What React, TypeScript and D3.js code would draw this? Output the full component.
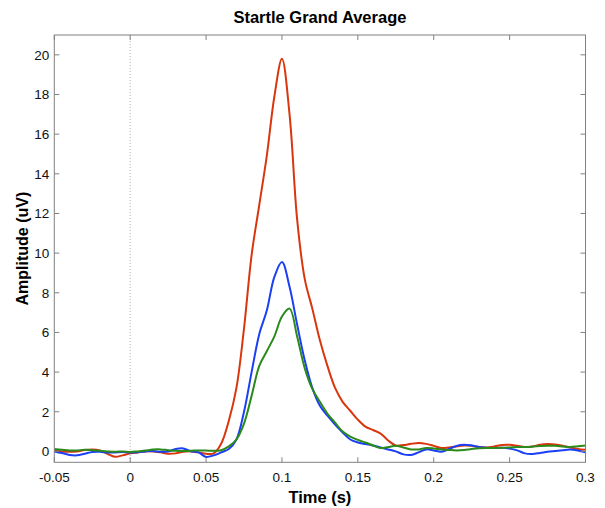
import React from "react";
import * as d3 from "d3";

const TITLE = "Startle Grand Average";
const X_LABEL = "Time (s)";
const Y_LABEL = "Amplitude (uV)";

const X_TICKS = [-0.05, 0, 0.05, 0.1, 0.15, 0.2, 0.25, 0.3];
const X_TICK_LABELS = ["-0.05", "0", "0.05", "0.1", "0.15", "0.2", "0.25", "0.3"];
const Y_TICKS = [0, 2, 4, 6, 8, 10, 12, 14, 16, 18, 20];

const TIMES = [
  -0.05, -0.045, -0.04, -0.035, -0.03, -0.025, -0.02, -0.015, -0.01, -0.005,
  0, 0.005, 0.01, 0.015, 0.02, 0.025, 0.03, 0.035, 0.04, 0.045,
  0.05, 0.055, 0.06, 0.065, 0.07, 0.075, 0.08, 0.085, 0.09, 0.095,
  0.1, 0.105, 0.11, 0.115, 0.12, 0.125, 0.13, 0.135, 0.14, 0.145,
  0.15, 0.155, 0.16, 0.165, 0.17, 0.175, 0.18, 0.185, 0.19, 0.195,
  0.2, 0.205, 0.21, 0.215, 0.22, 0.225, 0.23, 0.235, 0.24, 0.245,
  0.25, 0.255, 0.26, 0.265, 0.27, 0.275, 0.28, 0.285, 0.29, 0.295,
  0.3,
];

const RED = [
  0.05, 0.0, -0.02, 0.0, 0.07, 0.1, 0.05, -0.12, -0.27, -0.2,
  -0.1, -0.05, 0.0, 0.0, -0.05, -0.12, -0.1, -0.02, 0.0, -0.05,
  -0.12, -0.1, 0.4, 1.55, 3.2, 6.2, 9.9, 12.4, 14.9, 17.9,
  19.8, 17.0, 11.7, 8.7, 7.2, 5.6, 4.3, 3.2, 2.5, 2.05,
  1.6, 1.25, 1.08, 0.9, 0.55, 0.3, 0.32, 0.38, 0.42, 0.38,
  0.28, 0.17, 0.2, 0.25, 0.3, 0.28, 0.22, 0.2, 0.25, 0.32,
  0.33, 0.28, 0.22, 0.25, 0.33, 0.37, 0.35, 0.29, 0.2, 0.12,
  0.08,
];

const BLUE = [
  0.0, -0.08, -0.18, -0.2, -0.12, -0.03, -0.02, -0.06, -0.05, -0.03,
  -0.05, -0.04, 0.0, 0.02, -0.02, 0.0, 0.12, 0.15, 0.0, -0.05,
  -0.28, -0.2, -0.05, 0.12, 0.6, 2.0, 4.0, 5.9, 7.1, 8.8,
  9.55, 8.3, 6.4, 4.6, 3.2, 2.3, 1.8, 1.35, 0.95, 0.6,
  0.45, 0.37, 0.3, 0.2, 0.1, 0.0, -0.15, -0.18, -0.05, 0.1,
  0.05, -0.02, 0.12, 0.28, 0.34, 0.3, 0.22, 0.18, 0.17, 0.18,
  0.14, 0.05, -0.1, -0.13, -0.08, -0.02, 0.02, 0.06, 0.09, 0.04,
  -0.05,
];

const GREEN = [
  0.12, 0.08, 0.04, 0.05, 0.08, 0.06, 0.03, 0.0, -0.02, 0.0,
  -0.03, 0.0, 0.04, 0.09, 0.1, 0.06, 0.03, 0.02, 0.03, 0.05,
  0.04, 0.03, 0.06, 0.25, 0.6, 1.4, 2.8, 4.3, 5.05, 5.8,
  6.8, 7.2, 5.8, 4.2, 3.15, 2.5, 1.9, 1.45, 1.0, 0.75,
  0.58, 0.45, 0.3, 0.17, 0.22, 0.29, 0.2, 0.1, 0.1, 0.17,
  0.15, 0.1, 0.07, 0.05, 0.07, 0.12, 0.16, 0.17, 0.17, 0.18,
  0.2, 0.22, 0.22, 0.24, 0.27, 0.29, 0.28, 0.25, 0.22, 0.26,
  0.3,
];

const SERIES = [
  { name: "red", values: RED, color: "#d9360e" },
  { name: "blue", values: BLUE, color: "#1a3ff5" },
  { name: "green", values: GREEN, color: "#2a8a1a" },
];

const W = 605;
const H = 508;
const LEFT = 54.3;
const RIGHT = 585.5;
const TOP = 35;
const BOTTOM = 462.3;
const FONT = "'Liberation Sans', Arial, Helvetica, sans-serif";
const AXIS_COLOR = "#808080";

export default function App() {
  const x = d3.scaleLinear().domain([-0.05, 0.3]).range([LEFT, RIGHT]);
  const y = d3.scaleLinear().domain([-0.55, 21]).range([BOTTOM, TOP]);

  const line = d3
    .line<number>()
    .x((_, i) => x(TIMES[i]))
    .y((d) => y(d))
    .curve(d3.curveCatmullRom.alpha(0.5));

  const tickLen = 5;

  return (
    <svg
      width={W}
      height={H}
      style={{ position: "absolute", left: 0, top: 0, background: "#fff" }}
      fontFamily={FONT}
    >
      <rect x={0} y={0} width={W} height={H} fill="#fff" />
      <line
        x1={x(0)}
        x2={x(0)}
        y1={TOP}
        y2={BOTTOM}
        stroke="#b0b0b0"
        strokeWidth={1}
        strokeDasharray="1,2"
      />
      <defs>
        <clipPath id="plotclip">
          <rect x={LEFT} y={TOP} width={RIGHT - LEFT} height={BOTTOM - TOP} />
        </clipPath>
      </defs>
      <g clipPath="url(#plotclip)">
        {SERIES.map((s) => (
          <path
            key={s.name}
            d={line(s.values) || ""}
            fill="none"
            stroke={s.color}
            strokeWidth={2}
            strokeLinejoin="round"
          />
        ))}
      </g>
      <rect
        x={LEFT}
        y={TOP}
        width={RIGHT - LEFT}
        height={BOTTOM - TOP}
        fill="none"
        stroke={AXIS_COLOR}
        strokeWidth={1}
      />
      {X_TICKS.map((t, i) => (
        <g key={"xt" + i}>
          <line x1={x(t)} x2={x(t)} y1={BOTTOM} y2={BOTTOM - tickLen} stroke={AXIS_COLOR} />
          <line x1={x(t)} x2={x(t)} y1={TOP} y2={TOP + tickLen} stroke={AXIS_COLOR} />
          <text
            x={x(t)}
            y={BOTTOM + 19.5}
            textAnchor="middle"
            fontSize={13.5}
            fill="#111"
          >
            {X_TICK_LABELS[i]}
          </text>
        </g>
      ))}
      {Y_TICKS.map((t) => (
        <g key={"yt" + t}>
          <line x1={LEFT} x2={LEFT + tickLen} y1={y(t)} y2={y(t)} stroke={AXIS_COLOR} />
          <line x1={RIGHT} x2={RIGHT - tickLen} y1={y(t)} y2={y(t)} stroke={AXIS_COLOR} />
          <text
            x={LEFT - 5}
            y={y(t) + 4.8}
            textAnchor="end"
            fontSize={13.5}
            fill="#111"
          >
            {t}
          </text>
        </g>
      ))}
      <text
        x={(LEFT + RIGHT) / 2}
        y={23}
        textAnchor="middle"
        fontSize={16.5}
        fontWeight="bold"
        fill="#000"
      >
        {TITLE}
      </text>
      <text
        x={(LEFT + RIGHT) / 2}
        y={503}
        textAnchor="middle"
        fontSize={16.5}
        fontWeight="bold"
        fill="#000"
      >
        {X_LABEL}
      </text>
      <text
        transform={`translate(28,${(TOP + BOTTOM) / 2}) rotate(-90)`}
        textAnchor="middle"
        fontSize={16}
        fontWeight="bold"
        fill="#000"
      >
        {Y_LABEL}
      </text>
    </svg>
  );
}
